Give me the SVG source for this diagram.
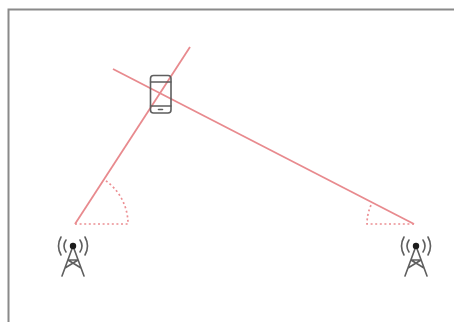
<svg xmlns="http://www.w3.org/2000/svg" width="454" height="322" viewBox="0 0 454 322">
<style>
.frame{fill:none;stroke:#8a8a8a;stroke-width:2}
.ray{fill:none;stroke:#e88a8e;stroke-width:1.8}
.angle{fill:none;stroke:#ec8f93;stroke-width:1.7;stroke-dasharray:2 2.6}
.dev{fill:none;stroke:#5e5e5e;stroke-width:1.6;stroke-linecap:round;stroke-linejoin:round}
</style>
<defs>
<filter id="soft" x="-5%" y="-5%" width="110%" height="110%"><feGaussianBlur stdDeviation="0.6"/></filter>
<g id="tower">
<path class="dev" d="M0 0L-11 30M0 0L11 30M-5 14L5 14M-8 22L5 14M8 22L-5 14"/>
<circle cx="0" cy="0" r="3.200" fill="#1c1c1c"/>
<path class="dev" d="M-7 -6Q-11 0 -7 6M7 -6Q11 0 7 6M-12 -9Q-17 0 -12 9M12 -9Q17 0 12 9"/>
</g>
</defs>
<g filter="url(#soft)">
<path class="frame" d="M8.500 322V9.500H454"/>
<g id="connectors">
<line class="ray" x1="75" y1="224" x2="190" y2="47"/>
<line class="ray" x1="113" y1="69" x2="414" y2="224"/>
<path class="angle" d="M75 224H128A53 53 0 0 0 104 179.500"/>
<path class="angle" d="M414 224H367A47 47 0 0 1 372.200 202.500"/>
</g>
<g id="phone">
<rect class="dev" x="150.500" y="75.500" width="20.500" height="37.500" rx="3"/>
<path class="dev" d="M150.500 82H171M150.500 106H171M158.500 109.500H162.500"/>
</g>
<g id="tower-left"><use href="#tower" x="73" y="246"/></g>
<g id="tower-right"><use href="#tower" x="416" y="246"/></g>
</g>
</svg>
